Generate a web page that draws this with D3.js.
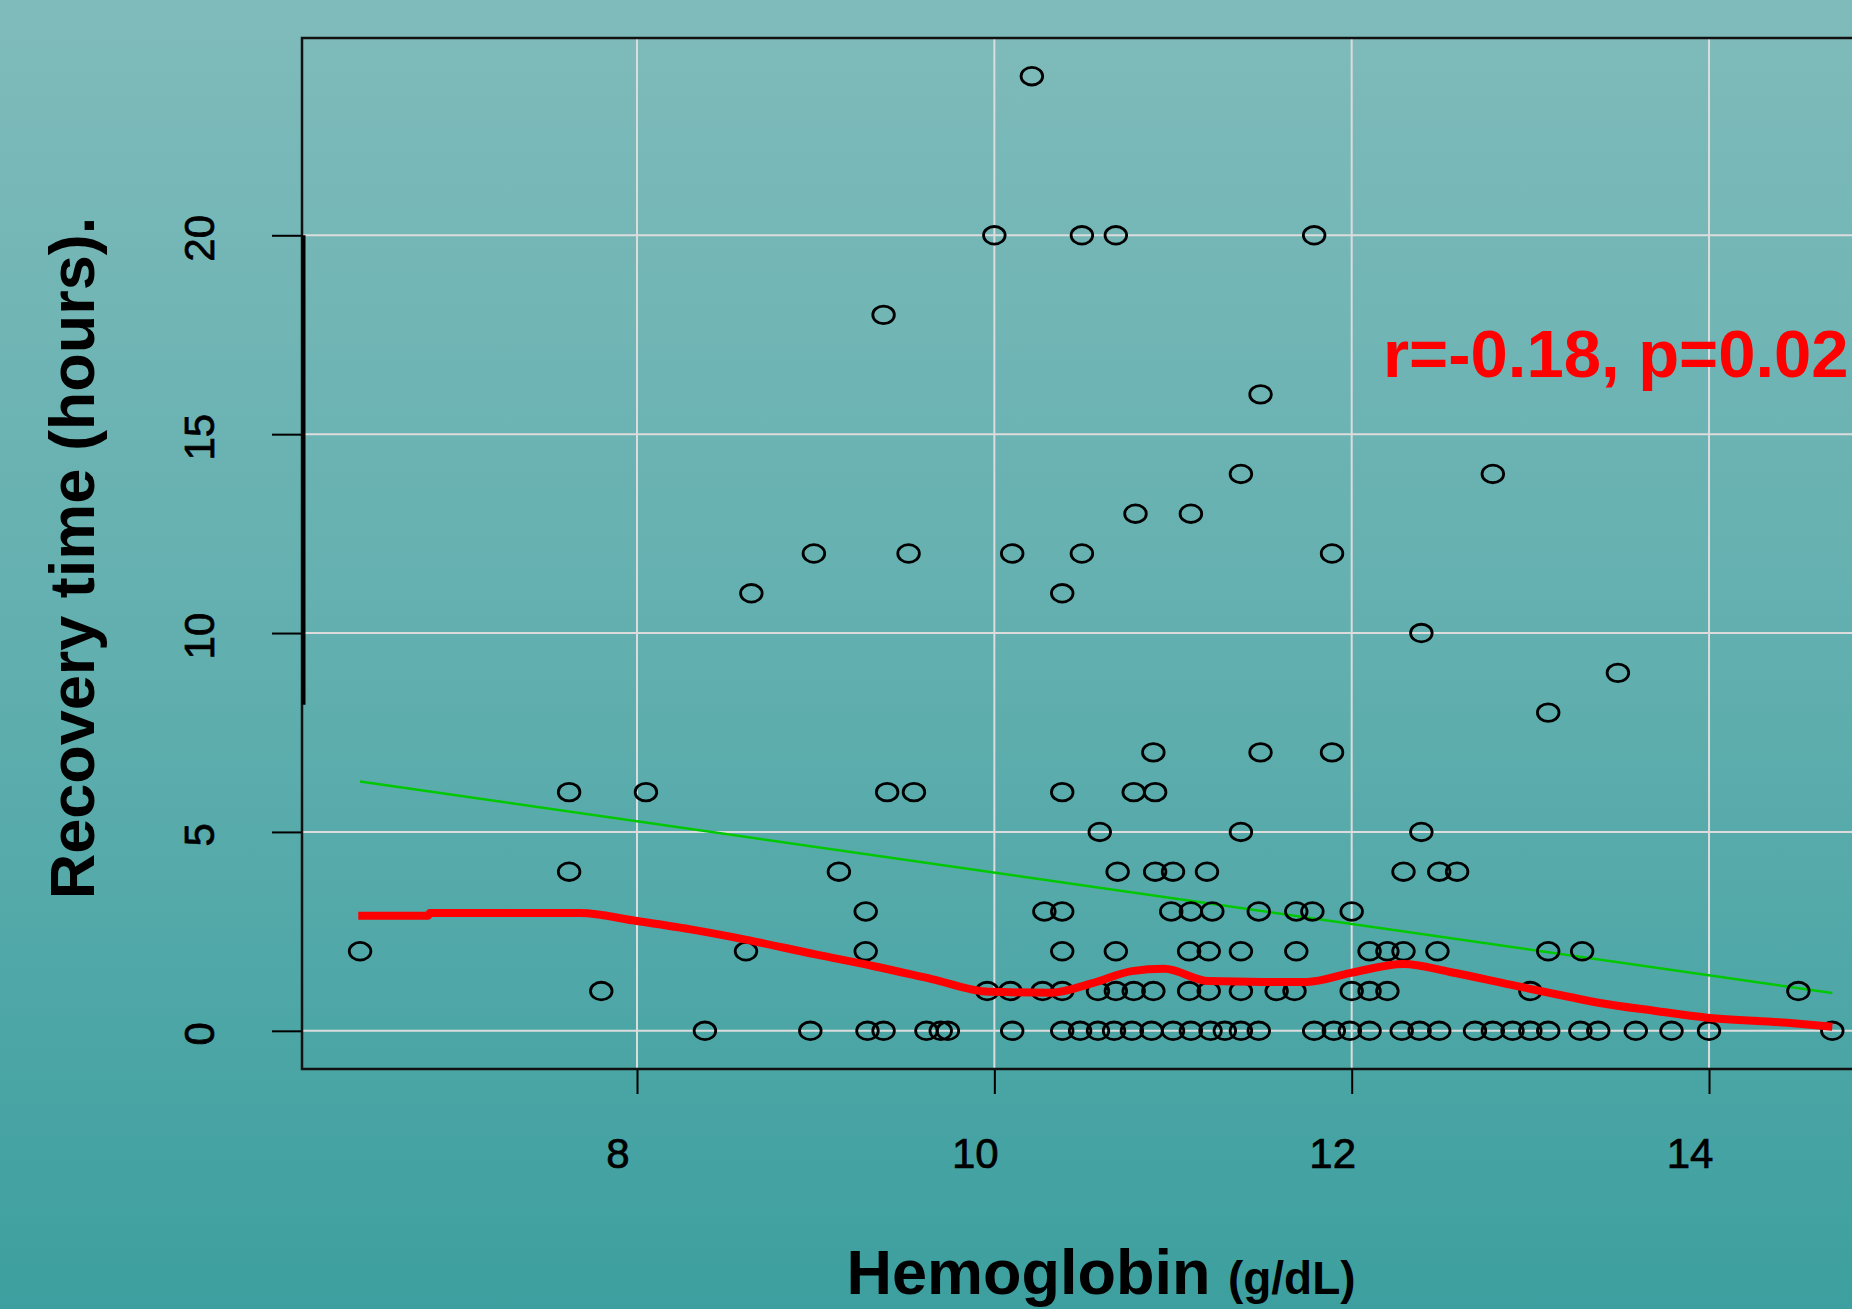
<!DOCTYPE html>
<html>
<head>
<meta charset="utf-8">
<script src="https://cdn.jsdelivr.net/npm/d3@7"></script>
<style>
 body{margin:0;padding:0;overflow:hidden;}
 #chart svg{display:block;}
</style>
</head>
<body>
<div id="chart"></div>
<script>

// recovery time levels (hours) and the hemoglobin readings seen at each level
var hourLevels = [24, 20, 18, 16, 14, 13, 12, 11, 10, 9, 8, 7, 6, 5, 4, 3, 2, 1, 0];
var hbByLevel = [
  [10.21],
  [10.0, 10.49, 10.68, 11.79],
  [9.38],
  [11.49],
  [11.38, 12.79],
  [10.79, 11.10],
  [8.99, 9.52, 10.10, 10.49, 11.89],
  [8.64, 10.38],
  [12.39],
  [13.49],
  [13.10],
  [10.89, 11.49, 11.89],
  [7.62, 8.05, 9.40, 9.55, 10.38, 10.78, 10.90],
  [10.59, 11.38, 12.39],
  [7.62, 9.13, 10.69, 10.90, 11.0, 11.19, 12.29, 12.49, 12.59],
  [9.28, 10.28, 10.38, 10.99, 11.10, 11.22, 11.48, 11.69, 11.78, 12.0],
  [6.45, 8.61, 9.28, 10.38, 10.68, 11.09, 11.20, 11.38, 11.69, 12.10, 12.20, 12.29, 12.48, 13.10, 13.29],
  [7.80, 9.96, 10.09, 10.27, 10.38, 10.58, 10.68, 10.78, 10.89, 11.09, 11.20, 11.38, 11.58, 11.68, 12.0, 12.1, 12.2, 13.0, 14.5],
  [8.38, 8.97, 9.29, 9.38, 9.62, 9.70, 9.74, 10.10, 10.38, 10.48, 10.58, 10.67, 10.77, 10.88, 11.0, 11.1, 11.21, 11.29, 11.38, 11.48,
   11.79, 11.90, 11.99, 12.10, 12.28, 12.38, 12.49, 12.69, 12.79, 12.90, 13.0, 13.10, 13.28, 13.38, 13.59, 13.79, 14.0, 14.69]
];

// smoother (red)
var smoothX = [6.44, 6.83, 6.84, 7.68, 8.0, 8.3, 8.6, 9.0, 9.32, 9.65, 9.97, 10.32, 10.55, 10.77, 10.95, 11.2, 11.5, 11.75, 11.99, 12.29, 12.55, 12.92, 13.22, 13.39, 13.7, 13.99, 14.44, 14.69];
var smoothY = [2.89, 2.89, 2.96, 2.96, 2.76, 2.55, 2.30, 1.92, 1.63, 1.30, 0.98, 0.96, 1.20, 1.50, 1.56, 1.25, 1.23, 1.23, 1.45, 1.68, 1.48, 1.13, 0.85, 0.70, 0.50, 0.33, 0.20, 0.10];

// fitted straight line (green), its two ends
var fitX = [6.45, 14.69];
var fitY = [6.27, 0.95];

var xTicks = [8, 10, 12, 14];
var yTicks = [0, 5, 10, 15, 20];
var statText = "r=-0.18, p=0.02";

var W = 1852, H = 1309;
var plotLeft = 302, plotTop = 38, plotBottom = 1069;
var fontName = 'Liberation Sans, Arial, sans-serif';

var points = [];
hourLevels.forEach(function(h, i){
  hbByLevel[i].forEach(function(v){ points.push({hb: v, hours: h}); });
});

var x = d3.scaleLinear().domain([6.125, 15]).range([plotLeft, plotLeft + 8.875*178.67]);
var y = d3.scaleLinear().domain([-0.96, 24.96]).range([plotBottom, plotTop]);

var svg = d3.select('#chart').append('svg')
  .attr('width', W)
  .attr('height', H);

var defs = svg.append('defs');
var grad = defs.append('linearGradient').attr('id', 'bg')
  .attr('x1', 0).attr('y1', 0).attr('x2', 0).attr('y2', 1);
grad.append('stop').attr('offset', '0%').attr('stop-color', '#80bbbb');
grad.append('stop').attr('offset', '50%').attr('stop-color', '#62afaf');
grad.append('stop').attr('offset', '100%').attr('stop-color', '#3d9f9f');

svg.append('rect').attr('width', W).attr('height', H).attr('fill', 'url(#bg)');

// grid
var grid = svg.append('g');
grid.selectAll('line.gx').data(xTicks).enter().append('line')
  .attr('x1', function(d){ return x(d); }).attr('x2', function(d){ return x(d); })
  .attr('y1', plotTop).attr('y2', plotBottom)
  .attr('stroke', '#dcdcdc').attr('stroke-width', 2);
grid.selectAll('line.gy').data(yTicks).enter().append('line')
  .attr('x1', plotLeft).attr('x2', W)
  .attr('y1', function(d){ return y(d); }).attr('y2', function(d){ return y(d); })
  .attr('stroke', '#dcdcdc').attr('stroke-width', 2);

// axes
var xAxis = d3.axisBottom(x).tickValues(xTicks).tickSize(25).tickFormat('');
var yAxis = d3.axisLeft(y).tickValues(yTicks).tickSize(30).tickFormat('');
var gx = svg.append('g').attr('transform', 'translate(0,' + plotBottom + ')').call(xAxis);
var gy = svg.append('g').attr('transform', 'translate(' + plotLeft + ',0)').call(yAxis);
gx.select('.domain').remove();
gy.select('.domain').remove();
svg.selectAll('.tick line').attr('stroke', '#000').attr('stroke-width', 2);

// box
svg.append('path')
  .attr('d', 'M' + W + ',' + plotTop + 'H' + plotLeft + 'V' + plotBottom + 'H' + W)
  .attr('fill', 'none').attr('stroke', '#111').attr('stroke-width', 2.5);
svg.append('line')
  .attr('x1', plotLeft + 1.5).attr('x2', plotLeft + 1.5)
  .attr('y1', y(20)).attr('y2', y(8.2))
  .attr('stroke', '#000').attr('stroke-width', 4);

// tick labels
svg.append('g').selectAll('text').data(xTicks).enter().append('text')
  .attr('x', function(d){ return x(d) - 19; })
  .attr('y', 1168)
  .attr('text-anchor', 'middle')
  .attr('stroke', '#000').attr('stroke-width', 0.7)
  .style('font-family', fontName)
  .style('font-size', '42px')
  .text(function(d){ return d; });

svg.append('g').selectAll('text').data(yTicks).enter().append('text')
  .attr('transform', function(d){ return 'translate(214,' + (y(d) + 3) + ') rotate(-90)'; })
  .attr('text-anchor', 'middle')
  .attr('stroke', '#000').attr('stroke-width', 0.7)
  .style('font-family', fontName)
  .style('font-size', '42px')
  .text(function(d){ return d; });

// fitted line
svg.append('line')
  .attr('x1', x(fitX[0])).attr('y1', y(fitY[0]))
  .attr('x2', x(fitX[1])).attr('y2', y(fitY[1]))
  .attr('stroke', '#00c800').attr('stroke-width', 2.5);

// points
svg.append('g').selectAll('ellipse').data(points).enter().append('ellipse')
  .attr('cx', function(d){ return x(d.hb); })
  .attr('cy', function(d){ return y(d.hours); })
  .attr('rx', 10.8).attr('ry', 8.8)
  .attr('fill', 'none').attr('stroke', '#000').attr('stroke-width', 2.8);

// smoother
var line = d3.line()
  .x(function(d, i){ return x(smoothX[i]); })
  .y(function(d, i){ return y(smoothY[i]); })
  .curve(d3.curveMonotoneX);
svg.append('path')
  .attr('d', line(smoothX))
  .attr('fill', 'none').attr('stroke', '#ff0000').attr('stroke-width', 8)
  .attr('stroke-linejoin', 'round');

// stat text
svg.append('text')
  .attr('x', 1383).attr('y', 377)
  .attr('fill', '#ff0000')
  .style('font-family', fontName)
  .style('font-weight', 'bold')
  .style('font-size', '67px')
  .text(statText);

// axis titles
var xt = svg.append('text')
  .attr('x', 1101).attr('y', 1294)
  .attr('text-anchor', 'middle')
  .style('font-family', fontName)
  .style('font-weight', 'bold');
xt.append('tspan').style('font-size', '63px').text('Hemoglobin ');
xt.append('tspan').style('font-size', '46px').text('(g/dL)');

svg.append('text')
  .attr('transform', 'translate(94,558) rotate(-90)')
  .attr('text-anchor', 'middle')
  .style('font-family', fontName)
  .style('font-weight', 'bold')
  .style('font-size', '63px')
  .text('Recovery time (hours).');

</script>
</body>
</html>
